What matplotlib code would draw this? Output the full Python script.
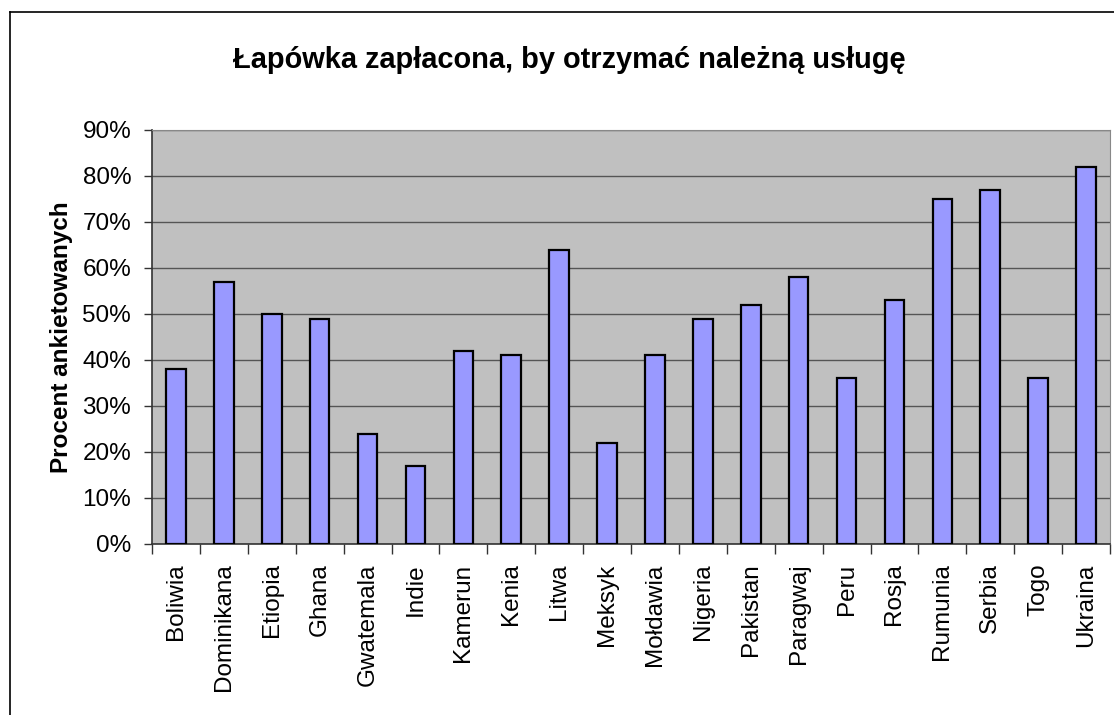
import matplotlib
matplotlib.use('Agg')
import matplotlib.pyplot as plt
from matplotlib.lines import Line2D
from matplotlib.ticker import MultipleLocator, FuncFormatter, FixedLocator
import numpy as np

plt.rcParams['font.family'] = ['Liberation Sans', 'DejaVu Sans']

countries = ['Boliwia', 'Dominikana', 'Etiopia', 'Ghana', 'Gwatemala', 'Indie',
             'Kamerun', 'Kenia', 'Litwa', 'Meksyk', 'Mołdawia', 'Nigeria',
             'Pakistan', 'Paragwaj', 'Peru', 'Rosja', 'Rumunia', 'Serbia',
             'Togo', 'Ukraina']
percent = [38, 57, 50, 49, 24, 17, 42, 41, 64, 22, 41, 49, 52, 58, 36, 53,
           75, 77, 36, 82]

fig = plt.figure(figsize=(11.14, 7.15), dpi=100)
ax = fig.add_axes([152/1114, 171/715, 958/1114, 414/715])

# outer chart border (top and left visible)
fig.add_artist(Line2D([10/1114, 1], [1 - 12/715, 1 - 12/715], color='black', lw=1.2))
fig.add_artist(Line2D([10/1114, 10/1114], [0, 1 - 12/715], color='black', lw=1.2))

ax.set_facecolor('#c0c0c0')
x = np.arange(len(countries))
ax.bar(x, percent, width=0.41, color='#9999ff', edgecolor='black', linewidth=1.6, zorder=3)

ax.set_xlim(-0.5, len(countries) - 0.5)
ax.set_ylim(0, 90)
ax.yaxis.set_major_locator(MultipleLocator(10))
ax.yaxis.set_major_formatter(FuncFormatter(lambda v, p: f'{int(v)}%'))
ax.grid(axis='y', color='#555555', linewidth=1.0, zorder=1)

ax.set_xticks(x)
ax.set_xticklabels(countries, rotation=90, fontsize=17.5)
ax.tick_params(axis='x', length=0, pad=14)
ax.xaxis.set_minor_locator(FixedLocator(np.arange(-0.5, len(countries), 1.0)))
ax.tick_params(axis='x', which='minor', length=7, width=1, color='#333333')
ax.tick_params(axis='y', labelsize=17.5, length=6, width=1, color='#333333', pad=9)

for s in ['top', 'right']:
    ax.spines[s].set_color('#888888')
for s in ['left', 'bottom']:
    ax.spines[s].set_color('#333333')
    ax.spines[s].set_linewidth(1.2)

ax.set_ylabel('Procent ankietowanych', fontsize=17.5, fontweight='bold', labelpad=7)
fig.text(569/1114, 1 - 60/715, 'Łapówka zapłacona, by otrzymać należną usługę',
         ha='center', va='center', fontsize=20.9, fontweight='bold')

fig.savefig('out.png', dpi=100)
